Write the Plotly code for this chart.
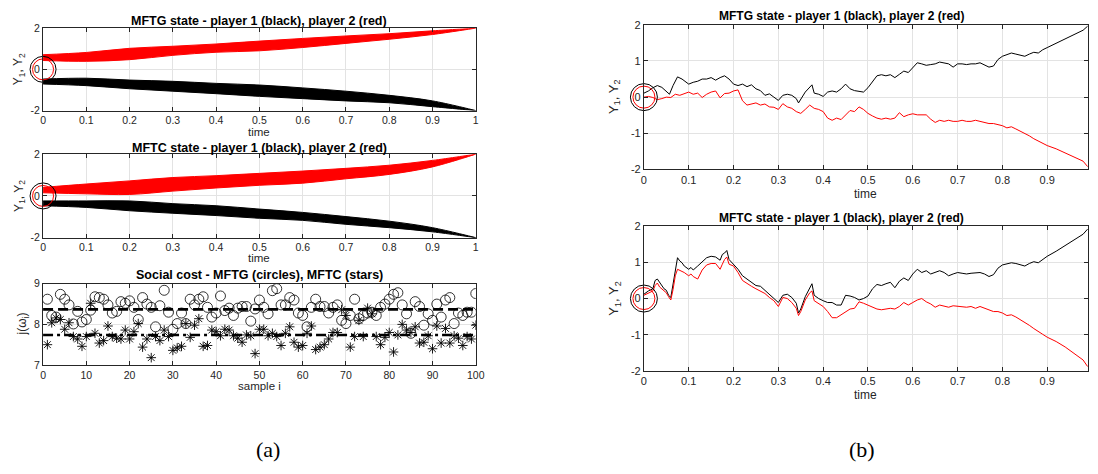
import plotly.graph_objects as go

W, H = 1098, 474

# ---------------- (a) fan of trajectories: envelopes
fan_t = [0.0, 0.1, 0.2, 0.3, 0.4, 0.5, 0.6, 0.7, 0.8, 0.9, 1.0]
mftg_red_hi = [0.71, 0.82, 1.02, 1.12, 1.23, 1.37, 1.50, 1.62, 1.73, 1.87, 2.0]
mftg_red_lo = [0.43, 0.39, 0.47, 0.68, 0.83, 0.90, 1.06, 1.26, 1.46, 1.69, 2.0]
mftg_blk_hi = [-0.47, -0.43, -0.52, -0.58, -0.68, -0.76, -0.90, -1.06, -1.26, -1.53, -2.0]
mftg_blk_lo = [-0.71, -0.79, -0.94, -1.06, -1.18, -1.31, -1.42, -1.53, -1.62, -1.81, -2.0]
mftc_red_hi = [0.41, 0.57, 0.72, 0.88, 0.97, 1.08, 1.19, 1.32, 1.47, 1.70, 2.0]
mftc_red_lo = [0.15, 0.10, 0.07, 0.23, 0.38, 0.51, 0.61, 0.82, 1.03, 1.39, 2.0]
mftc_blk_hi = [-0.24, -0.24, -0.24, -0.37, -0.47, -0.63, -0.79, -0.99, -1.21, -1.52, -2.0]
mftc_blk_lo = [-0.47, -0.55, -0.71, -0.83, -0.94, -1.07, -1.17, -1.36, -1.52, -1.72, -2.0]

# ---------------- (a) social cost per sample
sample_i = list(range(1, 101))
cost_mftg = [8.62, 8.22, 8.18, 8.74, 8.62, 8.48, 8.01, 8.32, 8.06, 8.12,
             8.35, 8.68, 8.66, 8.62, 8.48, 8.28, 8.32, 8.56, 8.52, 8.58,
             8.42, 8.12, 8.66, 8.50, 8.42, 7.94, 8.46, 8.84, 8.30, 7.88,
             8.02, 8.28, 8.02, 8.62, 8.48, 8.62, 8.68, 8.42, 8.18, 8.28,
             8.70, 8.34, 8.40, 8.22, 8.40, 8.44, 8.44, 8.08, 8.38, 8.60,
             8.42, 8.26, 8.83, 8.88, 8.48, 8.48, 8.66, 8.60, 8.28, 8.22,
             7.94, 8.42, 8.62, 8.44, 8.44, 8.28, 8.42, 8.48, 8.10, 8.02,
             8.22, 8.62, 8.14, 8.22, 8.28, 8.30, 8.22, 8.42, 8.50, 8.62,
             8.74, 8.78, 8.48, 8.26, 7.78, 8.56, 8.44, 7.98, 8.26, 8.10,
             8.50, 8.18, 8.60, 8.66, 8.02, 8.28, 8.22, 8.30, 8.30, 8.76]
cost_mftc = [7.50, 8.04, 8.16, 8.12, 7.88, 8.04, 7.70, 7.64, 7.46, 7.70,
             8.52, 7.78, 7.54, 7.60, 7.96, 7.70, 7.66, 7.64, 7.86, 7.64,
             7.82, 8.02, 7.44, 7.64, 7.18, 7.70, 7.60, 7.86, 7.70, 7.36,
             7.42, 7.46, 8.02, 7.68, 7.98, 8.14, 7.46, 7.48, 7.86, 7.82,
             7.72, 7.88, 7.86, 7.72, 7.66, 7.56, 7.74, 7.72, 7.28, 7.88,
             7.88, 7.72, 7.78, 7.70, 7.48, 7.78, 7.94, 7.56, 7.44, 7.48,
             7.78, 7.96, 7.38, 7.44, 7.50, 7.64, 7.80, 7.80, 8.36, 8.22,
             7.44, 7.70, 8.10, 7.70, 8.40, 8.26, 7.70, 7.50, 7.68, 7.80,
             7.32, 7.74, 8.00, 7.86, 7.80, 7.94, 7.54, 7.56, 7.72, 7.40,
             7.96, 7.54, 7.90, 7.54, 7.72, 7.66, 7.48, 7.70, 7.64, 7.98]
mean_mftg = 8.37
mean_mftc = 7.74

# ---------------- (b) single trajectories
rt_blk_t = [0, 0.01, 0.02, 0.03, 0.04, 0.05, 0.057, 0.065, 0.075, 0.085,
            0.10, 0.11, 0.12, 0.13, 0.14, 0.15, 0.16, 0.17, 0.18, 0.19,
            0.20, 0.21, 0.22, 0.23, 0.24, 0.25, 0.26, 0.27, 0.28, 0.29,
            0.30, 0.31, 0.32, 0.33, 0.34, 0.345, 0.36, 0.375,
            0.38, 0.39, 0.40, 0.41, 0.42, 0.43, 0.44, 0.45, 0.46, 0.47,
            0.48, 0.49, 0.50, 0.51, 0.52, 0.53, 0.54, 0.55, 0.56, 0.57,
            0.58, 0.59, 0.60, 0.61, 0.62, 0.63, 0.64, 0.65, 0.66, 0.67,
            0.68, 0.69, 0.70, 0.71, 0.72, 0.73, 0.74, 0.75, 0.76, 0.77,
            0.78, 0.79, 0.80, 0.81, 0.82, 0.83, 0.84, 0.85, 0.86, 0.87,
            0.88, 0.89, 0.90, 0.92, 0.94, 0.96, 0.98, 0.99]
rt_blk_y = [0.11, 0.17, 0.26, 0.32, 0.27, 0.17, 0.08, 0.32, 0.56, 0.50,
            0.36, 0.41, 0.44, 0.50, 0.50, 0.54, 0.47, 0.54, 0.59, 0.50,
            0.36, 0.32, 0.36, 0.29, 0.34, 0.23, 0.18, 0.05, 0.09, 0.00,
            -0.09, 0.05, 0.08, 0.05, -0.04, -0.16, 0.14, 0.34,
            0.11, 0.08, 0.02, 0.14, 0.17, 0.14, 0.23, 0.36, 0.23, 0.18,
            0.17, 0.14, 0.26, 0.41, 0.59, 0.62, 0.59, 0.62, 0.54, 0.63,
            0.72, 0.68, 0.81, 0.95, 0.92, 0.88, 0.90, 0.92, 0.97, 0.95,
            0.92, 0.83, 0.92, 0.92, 0.90, 0.92, 0.92, 0.95, 0.88, 0.83,
            0.86, 1.04, 1.13, 1.17, 1.22, 1.19, 1.17, 1.13, 1.19, 1.24,
            1.22, 1.31, 1.37, 1.49, 1.60, 1.73, 1.85, 1.96]

rt_red_t = [0, 0.01, 0.02, 0.03, 0.04, 0.05, 0.06, 0.07, 0.08, 0.09,
            0.10, 0.11, 0.12, 0.13, 0.14, 0.15, 0.16, 0.17, 0.18, 0.19,
            0.20, 0.21, 0.22, 0.23, 0.24, 0.25, 0.26, 0.27, 0.28, 0.29,
            0.30, 0.31, 0.32, 0.33, 0.34, 0.35, 0.36, 0.37, 0.38, 0.39,
            0.40, 0.41, 0.42, 0.43, 0.44, 0.45, 0.46, 0.47, 0.48, 0.49,
            0.50, 0.51, 0.52, 0.53, 0.54, 0.55, 0.56, 0.57, 0.58, 0.59,
            0.60, 0.61, 0.62, 0.63, 0.64, 0.65, 0.66, 0.67, 0.68, 0.69,
            0.70, 0.71, 0.72, 0.73, 0.74, 0.75, 0.76, 0.77, 0.78, 0.79,
            0.80, 0.81, 0.82, 0.83, 0.84, 0.85, 0.86, 0.87, 0.88, 0.89,
            0.90, 0.92, 0.94, 0.96, 0.98, 0.99]
rt_red_y = [0.00, 0.02, -0.01, -0.07, -0.04, 0.00, -0.01, 0.08, 0.05, 0.09,
            0.14, 0.08, 0.11, -0.01, 0.08, 0.14, 0.17, -0.02, 0.10, 0.11,
            0.17, 0.20, -0.10, -0.22, -0.18, -0.16, -0.22, -0.19, -0.27, -0.28,
            -0.34, -0.18, -0.27, -0.31, -0.40, -0.45, -0.34, -0.22, -0.31, -0.34,
            -0.40, -0.58, -0.64, -0.58, -0.62, -0.49, -0.37, -0.40, -0.27, -0.34,
            -0.45, -0.52, -0.58, -0.61, -0.58, -0.61, -0.58, -0.43, -0.54, -0.49,
            -0.46, -0.49, -0.49, -0.49, -0.61, -0.70, -0.64, -0.67, -0.64, -0.67,
            -0.67, -0.64, -0.67, -0.67, -0.64, -0.67, -0.71, -0.73, -0.73, -0.76,
            -0.79, -0.85, -0.82, -0.88, -0.94, -1.00, -1.07, -1.15, -1.21, -1.27,
            -1.34, -1.43, -1.54, -1.66, -1.77, -1.92]

rb_t = [0, 0.01, 0.02, 0.025, 0.03, 0.035, 0.04, 0.045, 0.05, 0.055,
        0.06, 0.065, 0.07, 0.075, 0.08, 0.085, 0.09, 0.10, 0.105, 0.11,
        0.12, 0.13, 0.14, 0.15, 0.16, 0.17, 0.175, 0.18, 0.185, 0.19,
        0.20, 0.21, 0.22, 0.23, 0.24, 0.25, 0.26, 0.27, 0.28, 0.29,
        0.30, 0.31, 0.32, 0.33, 0.34, 0.345, 0.35, 0.36, 0.37, 0.375,
        0.38, 0.39, 0.40, 0.41, 0.42, 0.43, 0.44, 0.45, 0.46, 0.47,
        0.48, 0.49, 0.50, 0.51, 0.52, 0.53, 0.54, 0.55, 0.56, 0.57,
        0.58, 0.59, 0.60, 0.61, 0.62, 0.63, 0.64, 0.65, 0.66, 0.67,
        0.68, 0.69, 0.70, 0.71, 0.72, 0.73, 0.74, 0.75, 0.76, 0.77,
        0.78, 0.79, 0.80, 0.81, 0.82, 0.83, 0.84, 0.85, 0.86, 0.87,
        0.88, 0.89, 0.90, 0.92, 0.94, 0.96, 0.98, 0.99]
rb_blk_y = [0.12, 0.21, 0.27, 0.50, 0.54, 0.45, 0.39, 0.27, 0.23, 0.09,
            0.03, 0.36, 0.77, 1.13, 1.04, 0.99, 0.90, 0.81, 0.86, 0.79,
            0.90, 1.02, 1.13, 1.17, 1.15, 1.06, 1.22, 1.26, 1.33, 1.08,
            0.95, 0.81, 0.63, 0.54, 0.45, 0.36, 0.34, 0.23, 0.12, 0.00,
            -0.11, 0.09, 0.12, 0.03, -0.13, -0.40, -0.29, 0.05, 0.27, 0.41,
            0.09, 0.00, -0.06, -0.11, -0.11, -0.18, -0.18, 0.09, 0.07, 0.03,
            -0.04, 0.00, 0.07, 0.27, 0.39, 0.36, 0.41, 0.45, 0.30, 0.48,
            0.57, 0.50, 0.68, 0.81, 0.72, 0.77, 0.68, 0.72, 0.77, 0.72,
            0.63, 0.68, 0.72, 0.70, 0.68, 0.70, 0.70, 0.72, 0.68, 0.61,
            0.66, 0.84, 0.93, 0.95, 0.99, 0.97, 0.93, 0.90, 0.97, 1.02,
            0.99, 1.08, 1.17, 1.31, 1.47, 1.62, 1.78, 1.92]
rb_red_y = [0.09, 0.14, 0.21, 0.36, 0.43, 0.32, 0.27, 0.20, 0.16, 0.05,
            -0.04, 0.25, 0.63, 0.81, 0.77, 0.75, 0.72, 0.63, 0.68, 0.61,
            0.54, 0.79, 0.93, 0.97, 0.97, 0.81, 0.95, 1.08, 1.15, 0.95,
            0.90, 0.72, 0.50, 0.41, 0.34, 0.27, 0.21, 0.14, 0.03, -0.06,
            -0.22, 0.03, 0.00, -0.11, -0.27, -0.47, -0.36, -0.04, 0.16, 0.21,
            -0.06, -0.15, -0.22, -0.36, -0.53, -0.53, -0.45, -0.38, -0.29, -0.27,
            -0.09, -0.13, -0.18, -0.24, -0.29, -0.31, -0.29, -0.27, -0.29, -0.22,
            -0.11, -0.18, -0.11, -0.04, 0.00, -0.09, -0.15, -0.24, -0.18, -0.22,
            -0.24, -0.20, -0.22, -0.22, -0.24, -0.22, -0.27, -0.22, -0.27, -0.33,
            -0.36, -0.36, -0.40, -0.47, -0.45, -0.51, -0.58, -0.65, -0.74, -0.83,
            -0.90, -0.99, -1.07, -1.19, -1.34, -1.52, -1.70, -1.88]

origin_t = [0]
origin_y = [0]

# ---------------- tick labels
t_ticks_a = [0, 0.1, 0.2, 0.3, 0.4, 0.5, 0.6, 0.7, 0.8, 0.9, 1]
t_text_a = ["0", "0.1", "0.2", "0.3", "0.4", "0.5", "0.6", "0.7", "0.8", "0.9", "1"]
t_ticks_b = [0, 0.1, 0.2, 0.3, 0.4, 0.5, 0.6, 0.7, 0.8, 0.9]
t_text_b = ["0", "0.1", "0.2", "0.3", "0.4", "0.5", "0.6", "0.7", "0.8", "0.9"]
y_ticks_a = [-2, 0, 2]
y_text_a = ["-2", "0", "2"]
y_ticks_b = [-2, -1, 0, 1, 2]
y_text_b = ["-2", "-1", "0", "1", "2"]
i_ticks = [0, 10, 20, 30, 40, 50, 60, 70, 80, 90, 100]
c_ticks = [7, 8, 9]

# ---------------- texts
title_mftg = "MFTG state - player 1 (black), player 2 (red)"
title_mftc = "MFTC state - player 1 (black), player 2 (red)"
title_cost = "Social cost - MFTG (circles), MFTC (stars)"
ylab_state = "Y<sub>1</sub>, Y<sub>2</sub>"
ylab_cost = "j(ω<sub>i</sub>)"

FONT = "Liberation Sans, Arial, sans-serif"
AXC = "#262626"
GRID = "#e3e3e3"

fig = go.Figure()


def band(t, hi, lo, color, ax):
    fig.add_trace(go.Scatter(
        x=t + t[::-1], y=hi + lo[::-1], mode="lines", fill="toself",
        fillcolor=color, line=dict(color=color, width=1, shape="spline"),
        xaxis=ax[0], yaxis=ax[1], hoverinfo="skip", showlegend=False))


def origin_rings(ax, sizes):
    fig.add_trace(go.Scatter(
        x=origin_t, y=origin_y, mode="markers", cliponaxis=False,
        marker=dict(symbol="circle-open", size=sizes[0], color="black",
                    line=dict(width=1)),
        xaxis=ax[0], yaxis=ax[1], showlegend=False))
    fig.add_trace(go.Scatter(
        x=origin_t, y=origin_y, mode="markers", cliponaxis=False,
        marker=dict(symbol="circle-open", size=sizes[1], color="red",
                    line=dict(width=1)),
        xaxis=ax[0], yaxis=ax[1], showlegend=False))


# (a) top: MFTG fan
band(fan_t, mftg_red_hi, mftg_red_lo, "#ff0000", ("x", "y"))
band(fan_t, mftg_blk_hi, mftg_blk_lo, "#000000", ("x", "y"))
origin_rings(("x", "y"), (26, 21))
# (a) middle: MFTC fan
band(fan_t, mftc_red_hi, mftc_red_lo, "#ff0000", ("x2", "y2"))
band(fan_t, mftc_blk_hi, mftc_blk_lo, "#000000", ("x2", "y2"))
origin_rings(("x2", "y2"), (26, 21))

# (a) bottom: social cost
fig.add_trace(go.Scatter(x=sample_i, y=cost_mftg, mode="markers",
                         marker=dict(symbol="circle-open", size=10, color="black",
                                     line=dict(width=0.8)),
                         xaxis="x3", yaxis="y3", showlegend=False))
fig.add_trace(go.Scatter(x=sample_i, y=cost_mftc, mode="markers",
                         marker=dict(symbol="asterisk-open", size=8, color="black",
                                     line=dict(width=0.9)),
                         xaxis="x3", yaxis="y3", showlegend=False))
fig.add_trace(go.Scatter(x=[sample_i[0] - 1, sample_i[-1]], y=[mean_mftg, mean_mftg],
                         mode="lines", line=dict(color="black", width=2.6, dash="10px,5px"),
                         xaxis="x3", yaxis="y3", showlegend=False))
fig.add_trace(go.Scatter(x=[sample_i[0] - 1, sample_i[-1]], y=[mean_mftc, mean_mftc],
                         mode="lines", line=dict(color="black", width=2.6,
                                                 dash="10px,4px,3px,4px"),
                         xaxis="x3", yaxis="y3", showlegend=False))

# (b) top: MFTG single path
fig.add_trace(go.Scatter(x=rt_blk_t, y=rt_blk_y, mode="lines",
                         line=dict(color="black", width=1), xaxis="x4", yaxis="y4",
                         showlegend=False))
fig.add_trace(go.Scatter(x=rt_red_t, y=rt_red_y, mode="lines",
                         line=dict(color="red", width=1), xaxis="x4", yaxis="y4",
                         showlegend=False))
origin_rings(("x4", "y4"), (27, 22))
# (b) bottom: MFTC single path
fig.add_trace(go.Scatter(x=rb_t, y=rb_blk_y, mode="lines",
                         line=dict(color="black", width=1), xaxis="x5", yaxis="y5",
                         showlegend=False))
fig.add_trace(go.Scatter(x=rb_t, y=rb_red_y, mode="lines",
                         line=dict(color="red", width=1), xaxis="x5", yaxis="y5",
                         showlegend=False))
origin_rings(("x5", "y5"), (27, 22))


def px_x(p):
    return p / W


def px_y(p):
    return 1 - p / H


def axis(dom, rng, tickvals, ticktext, anchor, size):
    return dict(domain=dom, range=rng, tickvals=tickvals, ticktext=ticktext,
                anchor=anchor, showgrid=True, gridcolor=GRID, gridwidth=1,
                zeroline=False, showline=True, linecolor=AXC, linewidth=1,
                mirror="ticks", ticks="inside", ticklen=4, tickcolor=AXC,
                tickwidth=1, tickfont=dict(family=FONT, size=size, color=AXC))


LX = [px_x(40.5), px_x(478)]
RX = [px_x(648), px_x(1097)]

fig.update_layout(
    width=W, height=H, autosize=False,
    margin=dict(l=0, r=0, t=0, b=0),
    paper_bgcolor="white", plot_bgcolor="white",
    xaxis=axis(LX, [0, 1], t_ticks_a, t_text_a, "y", 10.5),
    yaxis=axis([px_y(107.3), px_y(22.7)], [-2, 2], y_ticks_a, y_text_a, "x", 10.5),
    xaxis2=axis(LX, [0, 1], t_ticks_a, t_text_a, "y2", 10.5),
    yaxis2=axis([px_y(237.7), px_y(152)], [-2, 2], y_ticks_a, y_text_a, "x2", 10.5),
    xaxis3=axis(LX, [0, 100], i_ticks, [str(v) for v in i_ticks], "y3", 10.5),
    yaxis3=axis([px_y(368.3), px_y(285)], [7, 9], c_ticks, [str(v) for v in c_ticks], "x3", 10.5),
    xaxis4=axis(RX, [0, 0.991], t_ticks_b, t_text_b, "y4", 11),
    yaxis4=axis([px_y(167.7), px_y(19.3)], [-2, 2], y_ticks_b, y_text_b, "x4", 11),
    xaxis5=axis(RX, [0, 0.991], t_ticks_b, t_text_b, "y5", 11),
    yaxis5=axis([px_y(374.3), px_y(226)], [-2, 2], y_ticks_b, y_text_b, "x5", 11),
)


def text(s, x, y, size, bold=False, angle=0, family=FONT, color="#000000"):
    fig.add_annotation(text=("<b>%s</b>" % s) if bold else s,
                       x=px_x(x), y=px_y(y), xref="paper", yref="paper",
                       showarrow=False, textangle=angle, xanchor="center",
                       yanchor="middle", font=dict(family=family, size=size, color=color))


# titles
text(title_mftg, 259, 15, 12.5, bold=True)
text(title_mftc, 259, 146, 12.5, bold=True)
text(title_cost, 259, 276, 12.5, bold=True)
text(title_mftg, 848, 10, 12, bold=True)
text(title_mftc, 848, 217, 12, bold=True)
# axis labels
text("time", 259, 129, 11.5, color=AXC)
text("time", 259, 259, 11.5, color=AXC)
text("sample i", 259, 390, 11.5, color=AXC)
text("time", 872, 193, 12, color=AXC)
text("time", 872, 399, 12, color=AXC)
text(ylab_state, 17, 65, 12, angle=-90, color=AXC)
text(ylab_state, 17, 195, 12, angle=-90, color=AXC)
text(ylab_cost, 20, 326, 12, angle=-90, color=AXC)
text(ylab_state, 618, 93, 13, angle=-90, color=AXC)
text(ylab_state, 618, 300, 13, angle=-90, color=AXC)
# panel captions
text("(a)", 268, 455, 22, family="Liberation Serif, serif")
text("(b)", 868, 455, 22, family="Liberation Serif, serif")

fig.write_html(
    "out.html",
    config={"responsive": False, "displayModeBar": False},
    post_script="document.documentElement.style.overflow='hidden';"
                "document.body.style.margin='0px';"
                "document.body.style.overflow='hidden';",
)
